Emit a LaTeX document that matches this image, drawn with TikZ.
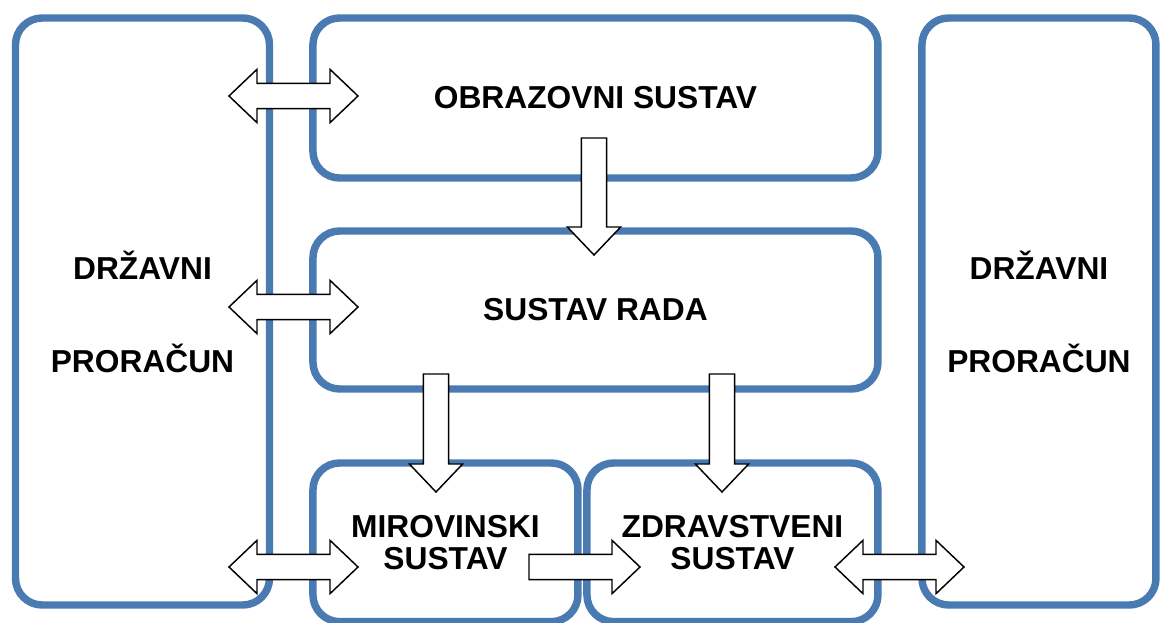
\documentclass[tikz,border=0pt]{standalone}
\usepackage{fontspec}
\setmainfont{Liberation Sans}
\usetikzlibrary{calc,positioning,shadows}

\definecolor{boxblue}{RGB}{74,122,178}
\newcommand{\shaftw}{9.5pt}
\newcommand{\headw}{20pt}
\newcommand{\headl}{21pt}

\begin{document}
\begin{tikzpicture}[
    x=0.75pt, y=0.75pt,
    box/.style={draw=boxblue, line width=5.6pt, rounded corners=20pt, fill=white,
                inner sep=0pt, outer sep=0pt, align=center,
                font=\fontsize{23.8}{24}\selectfont\bfseries,
                drop shadow={shadow xshift=0.5pt, shadow yshift=-2pt, opacity=0.2}},
    budget/.style={box, minimum height=440.25pt,
                   font=\fontsize{23.8}{69.75}\selectfont\bfseries},
    fat/.style={draw=black, fill=white, line width=1.1pt,
        to path={
        ($(\tikztostart)!\shaftw!90:(\tikztotarget)$)
        -- ($(\tikztotarget)!\headl!(\tikztostart)!\shaftw!90:(\tikztotarget)$)
        -- ($(\tikztotarget)!\headl!(\tikztostart)!\headw!90:(\tikztotarget)$)
        -- (\tikztotarget)
        -- ($(\tikztotarget)!\headl!(\tikztostart)!\headw!-90:(\tikztotarget)$)
        -- ($(\tikztotarget)!\headl!(\tikztostart)!\shaftw!-90:(\tikztotarget)$)
        -- ($(\tikztostart)!\shaftw!-90:(\tikztotarget)$)
        -- cycle}},
    fatboth/.style={draw=black, fill=white, line width=1.1pt,
        to path={
        (\tikztostart)
        -- ($(\tikztostart)!\headl!(\tikztotarget)!\headw!90:(\tikztotarget)$)
        -- ($(\tikztostart)!\headl!(\tikztotarget)!\shaftw!90:(\tikztotarget)$)
        -- ($(\tikztotarget)!\headl!(\tikztostart)!\shaftw!90:(\tikztotarget)$)
        -- ($(\tikztotarget)!\headl!(\tikztostart)!\headw!90:(\tikztotarget)$)
        -- (\tikztotarget)
        -- ($(\tikztotarget)!\headl!(\tikztostart)!\headw!-90:(\tikztotarget)$)
        -- ($(\tikztotarget)!\headl!(\tikztostart)!\shaftw!-90:(\tikztotarget)$)
        -- ($(\tikztostart)!\headl!(\tikztotarget)!\shaftw!-90:(\tikztotarget)$)
        -- ($(\tikztostart)!\headl!(\tikztotarget)!\headw!-90:(\tikztotarget)$)
        -- cycle}}
]
    \useasboundingbox (0,0) rectangle (1161,-623);

    % boxes
    \node[budget, minimum width=190.5pt, anchor=north west] (lbud) at (15.5,-18) {DRŽAVNI\\PRORAČUN};
    \node[box, minimum width=423.75pt, minimum height=120pt,
          right=32.6pt of lbud.north east, anchor=north west] (obraz) {OBRAZOVNI SUSTAV};
    \node[box, minimum width=423.75pt, minimum height=118.5pt,
          below=39.75pt of obraz.south west, anchor=north west] (rada) {SUSTAV RADA};
    \node[box, minimum width=198.75pt, minimum height=119pt,
          below=55.5pt of rada.south west, anchor=north west] (miro) {MIROVINSKI\\SUSTAV};
    \node[box, minimum width=218.25pt, minimum height=119pt,
          right=6.75pt of miro.north east, anchor=north west] (zdrav) {ZDRAVSTVENI\\SUSTAV};
    \node[budget, minimum width=175.5pt,
          right=33pt of obraz.north east, anchor=north west] (rbud) {DRŽAVNI\\PRORAČUN};

    % arrow ends
    \coordinate (bo1) at (229,-96);  \coordinate (bo2) at (358,-96);
    \coordinate (br1) at (229,-307); \coordinate (br2) at (358,-307);
    \coordinate (bm1) at (229,-567); \coordinate (bm2) at (358,-567);
    \coordinate (mz1) at (529,-567); \coordinate (mz2) at (640,-567);
    \coordinate (zb1) at (835,-567); \coordinate (zb2) at (964,-567);
    \coordinate (or1) at (594,-138); \coordinate (or2) at (594,-255);
    \coordinate (rm1) at (436,-374); \coordinate (rm2) at (436,-492);
    \coordinate (rz1) at (722,-374); \coordinate (rz2) at (722,-492);

    % arrows
    \draw[fatboth] (bo1) to (bo2);
    \draw[fatboth] (br1) to (br2);
    \draw[fatboth] (bm1) to (bm2);
    \draw[fat] (mz1) to (mz2);
    \draw[fatboth] (zb1) to (zb2);
    \draw[fat] (or1) to (or2);
    \draw[fat] (rm1) to (rm2);
    \draw[fat] (rz1) to (rz2);
\end{tikzpicture}
\end{document}
